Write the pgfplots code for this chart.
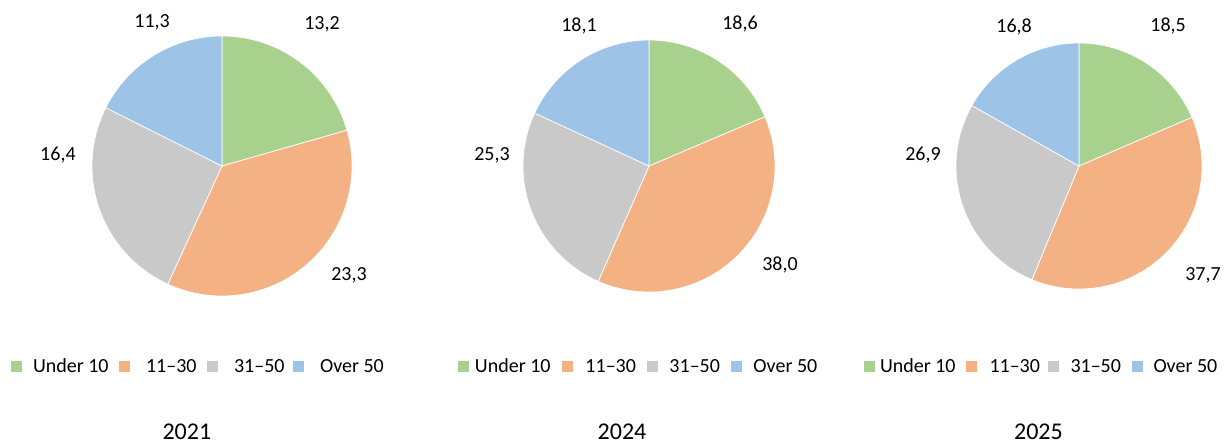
\documentclass[border=0pt]{standalone}
\usepackage{fontspec}
\setmainfont{Carlito}
\usepackage{pgfplots}
\pgfplotsset{compat=1.18}
\definecolor{cG}{HTML}{A9D18E}
\definecolor{cO}{HTML}{F4B183}
\definecolor{cY}{HTML}{C9C9C9}
\definecolor{cB}{HTML}{9DC3E6}
\newcommand{\lab}{\fontsize{20bp}{24bp}\selectfont}
\newcommand{\yr}{\fontsize{24bp}{28bp}\selectfont}
\newcommand{\angles}[4]{%
  \pgfmathsetmacro\pieS{#1+#2+#3+#4}%
  \pgfmathsetmacro\pieK{360/\pieS}%
  \pgfmathsetmacro\aB{90-\pieK*(#1)}%
  \pgfmathsetmacro\aC{90-\pieK*(#1+#2)}%
  \pgfmathsetmacro\aD{90-\pieK*(#1+#2+#3)}%
}
\pgfplotsset{
  every axis title shift=0pt,
  pie/.style={scale only axis, xmin=-1, xmax=1, ymin=-1, ymax=1, hide axis, clip=false,
    anchor=center,
    legend columns=4,
    legend image code/.code={\fill[##1,draw=none] (0bp,-5.5bp) rectangle (11bp,5.5bp);},
    legend style={draw=none, fill=none, anchor=west, inner sep=0pt, outer sep=0pt,
      /tikz/column sep=0pt, nodes={inner sep=0pt, text depth=0.15em}, font=\lab},
    title style={anchor=center, font=\yr, inner sep=0pt}},
  slice/.style={draw=white, line width=0.7bp, samples=90},
  labs/.style={draw=none, mark=none, forget plot, nodes near coords, point meta=explicit symbolic,
    nodes near coords style={anchor=center, font=\lab, inner sep=0pt}},
}
\begin{document}
\begin{tikzpicture}
\useasboundingbox (0bp,0bp) rectangle (1224bp,-443bp);
% ---------- 2021 ----------
\angles{13.2}{23.3}{16.4}{11.3}
\begin{axis}[pie, at={(222bp,-166bp)}, width=260bp, height=260bp,
  legend style={at={(-0.3115,-0.271)}},
  title={2021}, title style={at={(0.365,-0.521)}}]
\addplot[slice, fill=cG, domain=\aB:90] ({cos(x)},{sin(x)}) -- (0,0) -- cycle;
\addlegendentry{\makebox[97bp][l]{\hspace{11bp}Under 10}}
\addplot[slice, fill=cO, domain=\aC:\aB] ({cos(x)},{sin(x)}) -- (0,0) -- cycle;
\addlegendentry{\makebox[77bp][l]{\hspace{16bp}11--30}}
\addplot[slice, fill=cY, domain=\aD:\aC] ({cos(x)},{sin(x)}) -- (0,0) -- cycle;
\addlegendentry{\makebox[75bp][l]{\hspace{16bp}31--50}}
\addplot[slice, fill=cB, domain=-270:\aD] ({cos(x)},{sin(x)}) -- (0,0) -- cycle;
\addlegendentry{\hspace{16bp}Over 50}
\addplot[labs] table[meta=l] {
x y l
0.769 1.092 13,2
0.977 -0.838 23,3
-1.262 0.085 16,4
-0.538 1.108 11,3
};
\end{axis}
% ---------- 2024 ----------
\angles{18.6}{38.0}{25.3}{18.1}
\begin{axis}[pie, at={(649bp,-166bp)}, width=252bp, height=252bp,
  legend style={at={(-0.258,-0.296)}},
  title={2024}, title style={at={(0.393,-0.554)}}]
\addplot[slice, fill=cG, domain=\aB:90] ({cos(x)},{sin(x)}) -- (0,0) -- cycle;
\addlegendentry{\makebox[93bp][l]{\hspace{6bp}Under 10}}
\addplot[slice, fill=cO, domain=\aC:\aB] ({cos(x)},{sin(x)}) -- (0,0) -- cycle;
\addlegendentry{\makebox[74bp][l]{\hspace{12.5bp}11--30}}
\addplot[slice, fill=cY, domain=\aD:\aC] ({cos(x)},{sin(x)}) -- (0,0) -- cycle;
\addlegendentry{\makebox[73bp][l]{\hspace{11.5bp}31--50}}
\addplot[slice, fill=cB, domain=-270:\aD] ({cos(x)},{sin(x)}) -- (0,0) -- cycle;
\addlegendentry{\hspace{11.5bp}Over 50}
\addplot[labs] table[meta=l] {
x y l
0.722 1.127 18,6
1.040 -0.786 38,0
-1.246 0.087 25,3
-0.556 1.111 18,1
};
\end{axis}
% ---------- 2025 ----------
\angles{18.5}{37.7}{26.9}{16.8}
\begin{axis}[pie, at={(1079bp,-166bp)}, width=246bp, height=246bp,
  legend style={at={(-0.374,-0.315)}},
  title={2025}, title style={at={(0.335,-0.579)}}]
\addplot[slice, fill=cG, domain=\aB:90] ({cos(x)},{sin(x)}) -- (0,0) -- cycle;
\addlegendentry{\makebox[91bp][l]{\hspace{5bp}Under 10}}
\addplot[slice, fill=cO, domain=\aC:\aB] ({cos(x)},{sin(x)}) -- (0,0) -- cycle;
\addlegendentry{\makebox[71bp][l]{\hspace{12.5bp}11--30}}
\addplot[slice, fill=cY, domain=\aD:\aC] ({cos(x)},{sin(x)}) -- (0,0) -- cycle;
\addlegendentry{\makebox[73bp][l]{\hspace{11.5bp}31--50}}
\addplot[slice, fill=cB, domain=-270:\aD] ({cos(x)},{sin(x)}) -- (0,0) -- cycle;
\addlegendentry{\hspace{10.5bp}Over 50}
\addplot[labs] table[meta=l] {
x y l
0.724 1.138 18,5
1.008 -0.886 37,7
-1.268 0.089 26,9
-0.528 1.130 16,8
};
\end{axis}
\end{tikzpicture}
\end{document}
